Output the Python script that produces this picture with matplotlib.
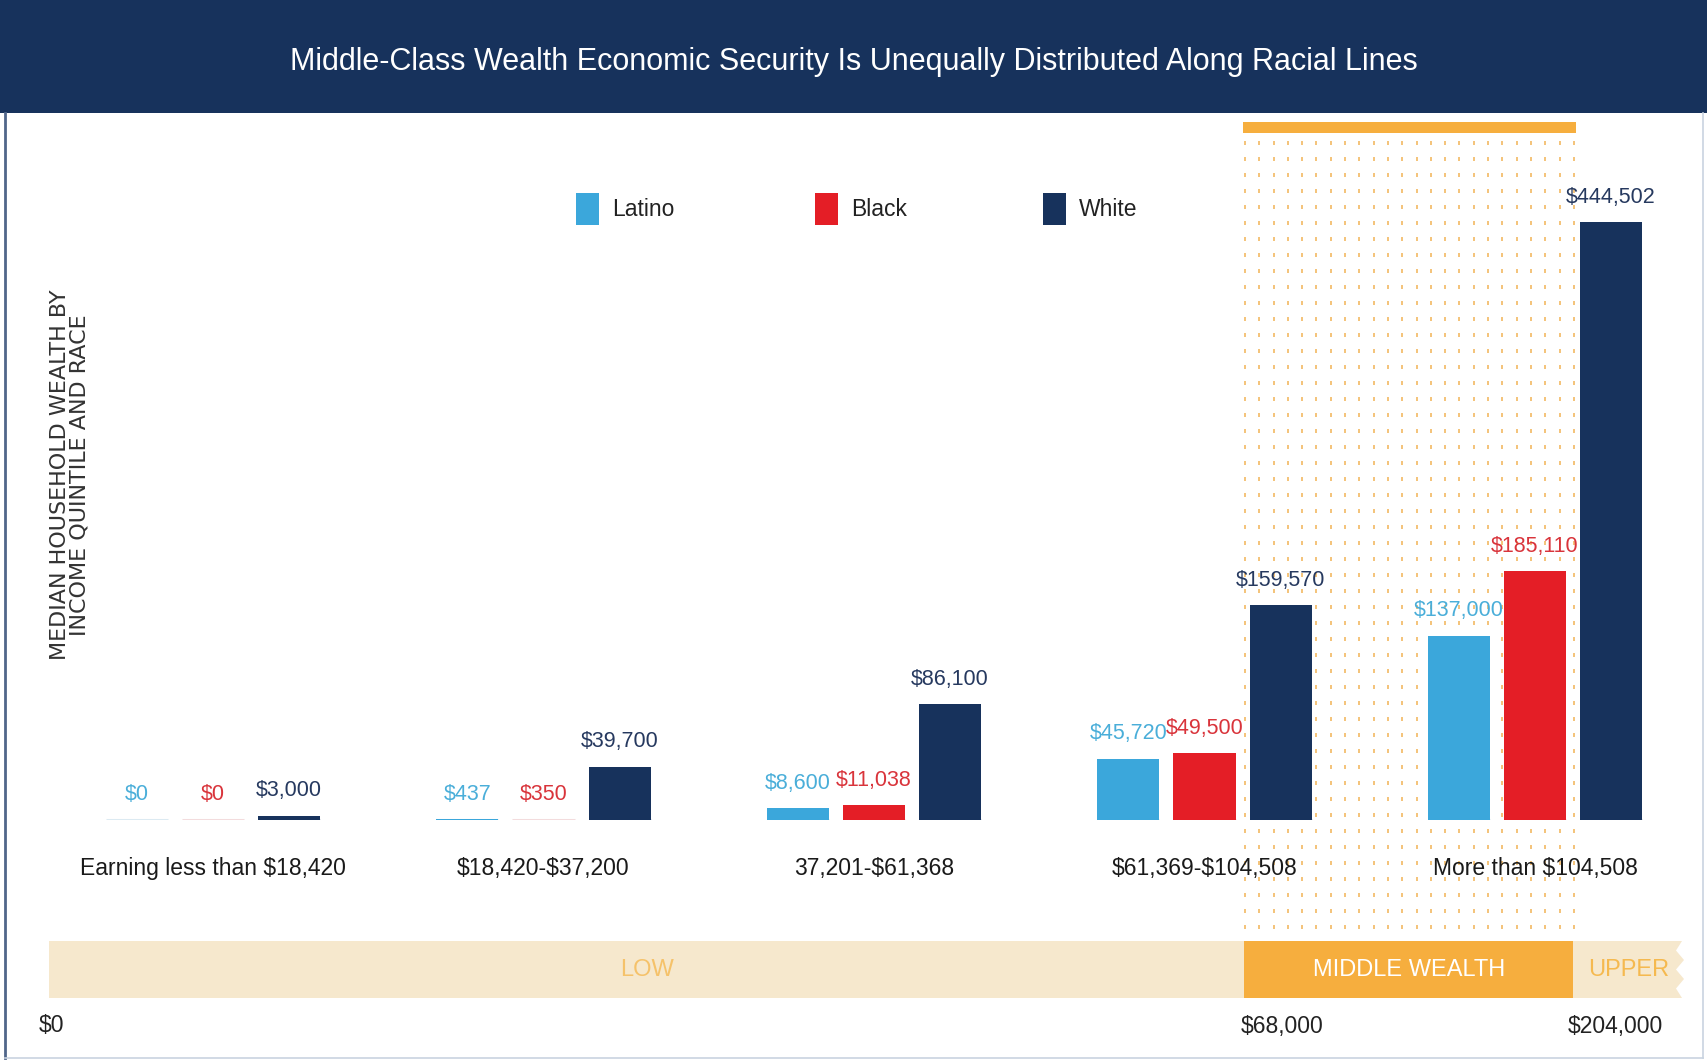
import matplotlib
matplotlib.use("Agg")
import matplotlib.pyplot as plt
from matplotlib.patches import Rectangle, Polygon
import numpy as np

# ---------------- data ----------------
categories = ["Earning less than $18,420", "$18,420-$37,200", "37,201-$61,368",
              "$61,369-$104,508", "More than $104,508"]
series_names = ["Latino", "Black", "White"]
latino = [0, 437, 8600, 45720, 137000]
black = [0, 350, 11038, 49500, 185110]
white = [3000, 39700, 86100, 159570, 444502]
band_labels = ["LOW", "MIDDLE WEALTH", "UPPER"]
band_ticks = ["$0", "$68,000", "$204,000"]
title = "Middle-Class Wealth Economic Security Is Unequally Distributed Along Racial Lines"
ylabel = "MEDIAN HOUSEHOLD WEALTH BY\nINCOME QUINTILE AND RACE"


def esc(s):
    return s.replace('$', r'\$')


# ---------------- style ----------------
plt.rcParams['font.family'] = ['Liberation Sans', 'DejaVu Sans']
C_LAT, C_BLK, C_WHT = '#3BA7DB', '#E41E26', '#17325C'
L_LAT, L_BLK, L_WHT = '#4AAED9', '#D9343B', '#26395F'
P_LAT, P_BLK, P_WHT = '#DCEAF2', '#F3DCDD', '#C9D1DE'
NAVY = '#17325C'
ORANGE = '#F6AE3E'
PALE = '#F6E8CD'

W, H = 1707, 1061
fig = plt.figure(figsize=(W / 100, H / 100), dpi=100)
fig.patch.set_facecolor('white')

# background / decoration axes in pixel coords
bg = fig.add_axes([0, 0, 1, 1], zorder=0)
bg.set_xlim(0, W)
bg.set_ylim(H, 0)
bg.axis('off')

# title band
bg.add_patch(Rectangle((0, 0), W, 113, color=NAVY, lw=0))
bg.text(W / 2, 62, title, color='white', fontsize=22, ha='center', va='center')
# frame lines
bg.plot([5, 5], [113, 1058], color='#50668A', lw=2)
bg.plot([1703, 1703], [113, 1058], color='#C9D3E0', lw=1.2)
bg.plot([5, 1703], [1058, 1058], color='#C9D3E0', lw=1.2)

# middle-wealth dotted region
bg.add_patch(Rectangle((1243, 122), 333, 11, color=ORANGE, lw=0))
xs = np.arange(1245, 1576, 14.3)
ys = np.arange(143, 940, 16)
gx, gy = np.meshgrid(xs, ys)
bg.scatter(gx.ravel(), gy.ravel(), marker='|', s=5, color='#F2B356', linewidths=1.3, alpha=0.85)

# bottom wealth band
zig_x = [1682, 1676, 1684, 1676, 1684, 1676, 1682]
zig_y = np.linspace(941, 998, len(zig_x))
poly = [(49, 941)] + list(zip(zig_x, zig_y)) + [(49, 998)]
bg.add_patch(Polygon(poly, closed=True, color=PALE, lw=0))
bg.add_patch(Rectangle((1244, 941), 329, 57, color=ORANGE, lw=0))
bg.text(647, 970, band_labels[0], color='#F5C26A', fontsize=17, ha='center', va='center')
bg.text(1409, 970, band_labels[1], color='white', fontsize=17, ha='center', va='center')
bg.text(1629, 970, band_labels[2], color='#F5B94F', fontsize=17, ha='center', va='center')
for x, t in zip([39, 1241, 1568], band_ticks):
    bg.text(x, 1026, esc(t), color='#222222', fontsize=16.5, ha='left', va='center')

# y label
bg.text(70, 475, ylabel, rotation=90, ha='center', va='center', fontsize=16,
        color='#333333', family=['DejaVu Sans'], linespacing=1.0)

# legend
for x0, name, col in zip([576, 815, 1043], series_names, [C_LAT, C_BLK, C_WHT]):
    bg.add_patch(Rectangle((x0, 193), 23, 32, color=col, lw=0))
    bg.text(x0 + 36, 209, name, fontsize=16.5, color='#222222', ha='left', va='center')

# ---------------- bars ----------------
px_per_dollar = 0.0013447
base_px = 820
ax_h = 700
ax = fig.add_axes([0, (H - base_px) / H, 1, ax_h / H], zorder=2)
ax.patch.set_alpha(0)
spacing = 330.5
c0 = 213
ax.set_xlim(-c0 / spacing, (W - c0) / spacing)
ax.set_ylim(0, ax_h / px_per_dollar)
ax.axis('off')

idx = np.arange(len(categories))
off = 0.23
bw = 0.1876
series = [(latino, C_LAT, L_LAT, P_LAT, -off),
          (black, C_BLK, L_BLK, P_BLK, 0),
          (white, C_WHT, L_WHT, P_WHT, off)]
for vals, col, lcol, pcol, o in series:
    xpos = idx + o
    ax.hlines([0] * len(xpos), xpos - bw / 2, xpos + bw / 2, colors=pcol, lw=2.2, zorder=1)
    ax.bar(xpos, vals, width=bw, color=col, zorder=2)
    for x, v in zip(xpos, vals):
        ax.annotate(esc(f"${v:,}"), (x, v), xytext=(0, 18), textcoords='offset points',
                    ha='center', va='center', fontsize=15.5, color=lcol)

for i, cat in zip(idx, categories):
    ax.annotate(esc(cat), (i, 0), xytext=(0, -35), textcoords='offset points',
                ha='center', va='center', fontsize=16.5, color='#1a1a1a',
                annotation_clip=False)

fig.savefig('out.png', dpi=100, facecolor='white')
